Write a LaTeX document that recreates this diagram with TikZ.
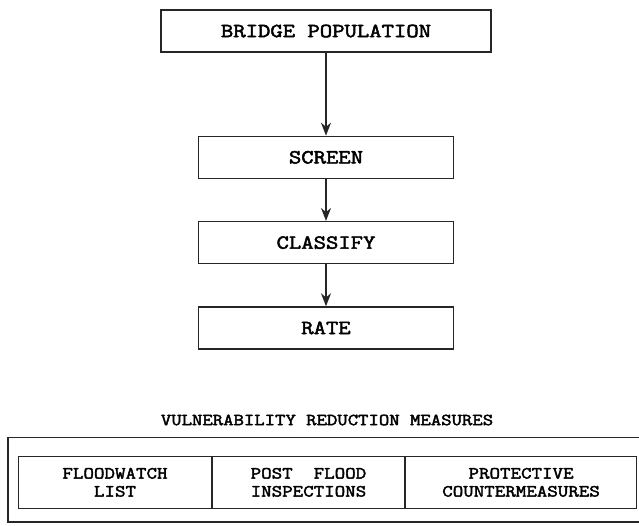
\documentclass[tikz,border=0pt]{standalone}
\usepackage{fontspec}
\setmonofont{Latin Modern Mono}[AutoFakeBold=2.5, FakeStretch=1.2]
\usetikzlibrary{positioning, arrows.meta}

\begin{document}
\begin{tikzpicture}[
  x=1pt, y=-1pt,
  stage/.style={draw=black!85, line width=1.3pt, minimum height=42pt, inner sep=0pt,
               font=\ttfamily\bfseries\fontsize{20}{20}\selectfont},
  measure/.style={draw=black!85, line width=1.3pt, minimum height=52pt, align=center,
                 inner sep=0pt, font=\ttfamily\bfseries\fontsize{17}{18}\selectfont},
  flow/.style={-{Stealth[length=13pt, width=10pt]}, line width=1.3pt, black!85},
  node distance=42pt
]
\useasboundingbox (0,0) rectangle (639,525);
\node[stage, minimum width=330pt] (bridge) at (326,31) {BRIDGE POPULATION};
\node[stage, minimum width=255pt, below=83pt of bridge] (screen) {SCREEN};
\node[stage, minimum width=255pt, below=of screen] (classify) {CLASSIFY};
\node[stage, minimum width=255pt, below=of classify] (rate) {RATE};
\draw[flow] (bridge) -- (screen);
\draw[flow] (screen) -- (classify);
\draw[flow] (classify) -- (rate);
% vulnerability reduction measures
\node[font=\ttfamily\bfseries\fontsize{16.8}{18}\selectfont] (title) at (327,420)
  {VULNERABILITY REDUCTION MEASURES};
\draw[black!85, line width=1.3pt] (645,437.7) -| (8,522) -- (645,522);
\node[measure, minimum width=192.7pt, anchor=north west] (watch) at (18,455.7)
  {FLOODWATCH\\LIST};
\node[measure, minimum width=191.6pt, right=0pt of watch] (inspect)
  {POST\ \ FLOOD\\INSPECTIONS};
\node[measure, minimum width=231pt, right=0pt of inspect] (counter)
  {PROTECTIVE\\COUNTERMEASURES};
\end{tikzpicture}
\end{document}
